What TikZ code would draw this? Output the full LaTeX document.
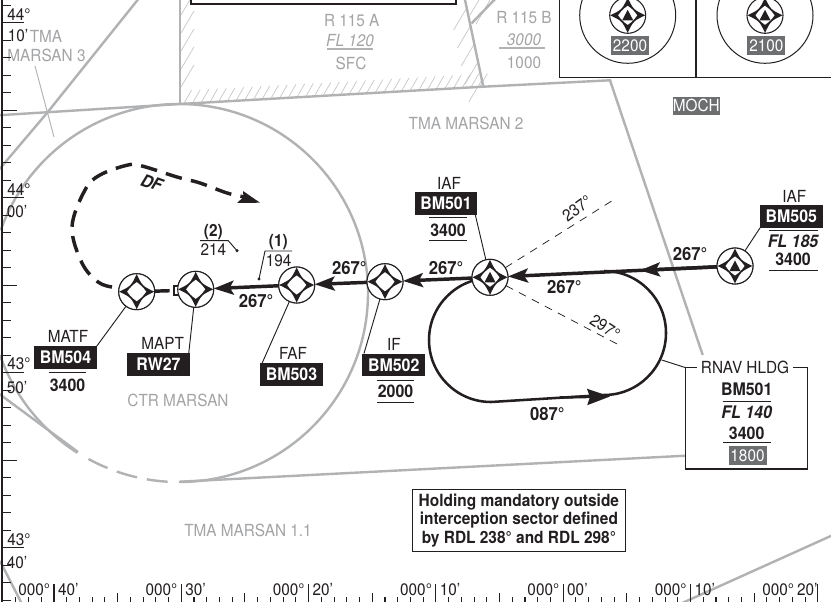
\documentclass[tikz,border=0pt]{standalone}
\usepackage{fontspec}
\setmainfont[FakeStretch=0.92]{TeX Gyre Heros}
\usetikzlibrary{arrows.meta,calc}
\definecolor{air}{HTML}{B1B2B4}
\definecolor{airtxt}{HTML}{A3A4A6}
\definecolor{tagc}{HTML}{6D6E70}
\definecolor{ink}{HTML}{231F20}
\newcommand{\wstar}{%
  \fill[ink] (0,-17.5) .. controls (5.7,-5.7) .. (17.5,0) .. controls (5.7,5.7) .. (0,17.5) .. controls (-5.7,5.7) .. (-17.5,0) .. controls (-5.7,-5.7) .. cycle;
  \fill[white] (0,-9.5) .. controls (4.4,-6.4) and (6.4,-4.4) .. (9.5,0) .. controls (6.4,4.4) and (4.4,6.4) .. (0,9.5) .. controls (-4.4,6.4) and (-6.4,4.4) .. (-9.5,0) .. controls (-6.4,-4.4) and (-4.4,-6.4) .. cycle;}
\tikzset{
  x=0.75pt,y=-0.75pt,
  every node/.style={inner sep=0pt,outer sep=0pt,text=ink},
  fn/.style={font=\fontsize{12.5}{14}\selectfont},
  fb/.style={font=\fontsize{13}{15}\bfseries\selectfont},
  fi/.style={font=\fontsize{13}{15}\bfseries\itshape\selectfont},
  gtxt/.style={font=\fontsize{12.5}{14}\selectfont,text=airtxt},
  gital/.style={font=\fontsize{12.5}{14}\itshape\selectfont,text=airtxt},
  brg/.style={font=\fontsize{13.6}{16}\bfseries\selectfont},
  bbox/.style={fill=ink,text=white,font=\fontsize{13}{15}\bfseries\selectfont,minimum width=47pt,minimum height=17.2pt},
  tagbox/.style={fill=tagc,text=white,font=\fontsize{12.5}{14}\selectfont,minimum height=14pt,minimum width=28.5pt},
  wpt/.style={circle,draw=ink,line width=0.8pt,fill=white,minimum size=27pt,
    path picture={\begin{scope}[shift={(path picture bounding box.center)}]\wstar\end{scope}}},
  wpti/.style={circle,draw=ink,line width=0.8pt,fill=white,minimum size=27pt,
    path picture={\begin{scope}[shift={(path picture bounding box.center)}]\wstar
      \fill[ink] (0,-5.5) -- (5.5,5) -- (-5.5,5) -- cycle;\end{scope}}},
  air/.style={draw=air,line width=1.8pt},
  hatchl/.style={draw=air!75,line width=0.5pt},
  track/.style={draw=ink,line width=2.6pt},
  arr/.style={-{Stealth[length=15pt,width=10.5pt,inset=3pt]}},
  lead/.style={draw=ink,line width=0.7pt},
  rule/.style={draw=ink,line width=0.7pt},
  ruleg/.style={draw=air,line width=0.8pt},
  tick/.style={draw=ink,line width=0.8pt},
  radial/.style={draw=ink,line width=0.55pt,dash pattern=on 6pt off 5pt},
}
\begin{document}
\begin{tikzpicture}
\useasboundingbox (0,0) rectangle (831,602);
\clip (0,0) rectangle (831,602);
\fill[white] (0,0) rectangle (831,602);

% hatching of R 115 A
\foreach \h in {184,192.7,...,480}{
  \pgfmathsetmacro\hy{103.5-(\h-180)*0.0563}
  \draw[hatchl] (\h,\hy) -- ++(7.5,-13);}
\foreach \h in {15,33,...,100}{\draw[hatchl] (181,\h) -- ++(13,-22);}
\foreach \h in {8,26,...,86}{
  \pgfmathsetmacro\hx{465+\h*0.21}
  \draw[hatchl] (\hx,\h) -- ++(-13,22);}
\draw[hatchl] (470,15) -- (479,0);
\draw[hatchl] (476,24) -- (490,0);

% airspace boundaries
\draw[air] (180,-5) -- (180,104);
\draw[air] (-2,115.3) -- (180,104) -- (483.3,86.7) -- (610,80.3) -- (702.7,355);
\draw[air] (464,-5) -- (483.3,86.7);
\draw[air] (471.5,23.5) -- (497,-3);
\draw[air] (140,-3) -- (47,113) -- (-3,172);
\draw[draw=air,line width=0.7pt] (35,66) -- (54,137);
\draw[air] (180,481.7) -- (685.7,455.7);
\draw[air] (-2,393) -- (78,452);
\draw[air] (0,561) -- (22,604);
\draw[air] (833,535) -- (680,604);
\draw[air] (179,482) arc[start angle=90,end angle=-160.6,radius=189];
\draw[air] (0,355) arc[start angle=160.9,end angle=122.4,radius=189];
\draw[air,dash pattern=on 15.75pt off 7.5pt] (88.5,459) arc[start angle=118.6,end angle=92,radius=189];

% top frames
\draw[draw=ink,line width=1.3pt,fill=white] (190.7,-8) rectangle (456,4);
\draw[draw=ink,line width=1pt] (559.3,-5) -- (559.3,77.7) -- (835,77.7);
\draw[draw=ink,line width=1pt] (696,-5) -- (696,77.7);
\node[circle,draw=ink,line width=0.75pt,minimum size=72pt] (ring1) at (627.7,15.3) {};
\node[circle,draw=ink,line width=0.75pt,minimum size=72pt] (ring2) at (765,15.3) {};
\node[wpti] (top1) at (ring1) {};
\node[wpti] (top2) at (ring2) {};
\node[tagbox] (t2200) at (630,45.6) {2200};
\node[tagbox] (t2100) at (766.3,45.6) {2100};
\node[tagbox,minimum width=35.5pt,minimum height=13.5pt] (moch) at (696.3,105.7) {MOCH};

% airspace names
\node[gtxt] (r115a) at (351.7,20.7) {R 115 A};
\node[gital] (fl120) at (350,41) {FL 120};
\draw[ruleg] (326.7,49) -- (372.7,49);
\node[gtxt] (sfc) at (351,63.3) {SFC};
\node[gtxt] (r115b) at (524,18) {R 115 B};
\node[gital] (v3000) at (524,40) {3000};
\draw[ruleg] (499,48) -- (545,48);
\node[gtxt] (v1000) at (524,63) {1000};
\node[gtxt] (tma3a) at (46,36.3) {TMA};
\node[gtxt] (tma3b) at (46.5,55) {MARSAN 3};
\node[gtxt] (tma2) at (466,123.7) {TMA MARSAN 2};
\node[gtxt] (ctr) at (178,400) {CTR MARSAN};
\node[gtxt] (tma11) at (248,530.7) {TMA MARSAN 1.1};

% scales
\draw[draw=ink,line width=1.3pt] (2,-5) -- (2,607);
\foreach \k in {-1,...,33}{
  \pgfmathsetmacro\ty{22.7+17.5*\k}
  \draw[tick] (2,\ty) -- (11,\ty);}
\foreach \k in {5,15,25}{
  \pgfmathsetmacro\ty{22.7+17.5*\k}
  \draw[tick] (2,\ty) -- (17,\ty);}
\foreach \k in {0,10,20,30}{
  \pgfmathsetmacro\ty{22.7+17.5*\k}
  \draw[tick] (2,\ty) -- (24,\ty);}
\foreach \k in {-3,-2,-1,1,2,3,4,6,7,8,9,11,12,13,14,16,17,18,19,21,22,23,24,26,27,28,29,31,32,33,34,36,37,38,39,41,42,43,44,46,47,48,49,51,52,53,54,56,57,58,59}{
  \pgfmathsetmacro\tx{54+12.73*\k}
  \draw[tick] (\tx,597) -- (\tx,603);}
\foreach \k in {5,15,25,35,45,55}{
  \pgfmathsetmacro\tx{54+12.73*\k}
  \draw[tick] (\tx,593) -- (\tx,603);}
\foreach \k in {0,10,...,60}{
  \pgfmathsetmacro\tx{54+12.73*\k}
  \draw[tick] (\tx,584) -- (\tx,603);}
\node[fn] (la) at (19,15) {44°};
\node[fn] (lb) at (18,36) {10'};
\node[fn] (lc) at (19,190) {44°};
\node[fn] (ld) at (17,212) {00'};
\node[fn] (le) at (19,364) {43°};
\node[fn] (lf) at (17,388) {50'};
\node[fn] (lg) at (19,540) {43°};
\node[fn] (lh) at (17,563) {40'};
\foreach \tx/\m [count=\i] in {54/40',181.3/30',308.6/20',435.9/10',563.2/00',690.5/10'}{
  \node[fn,anchor=east] (xd\i) at (\tx-4,590) {000°};
  \node[fn,anchor=west] (xm\i) at (\tx+4,590) {\m};}
\node[fn,anchor=east] (xd7) at (794,590) {000°};
\node[fn,anchor=west] (xm7) at (797,590) {20'};

% waypoints are placed first so that connectors can name them
\path node[wpti] (w505) at (735,266) {}
      node[wpti] (w501) at (490,277.3) {}
      node[wpt] (wif) at (385,281.7) {}
      node[wpt] (wfaf) at (296.7,285) {}
      node[wpt] (wmapt) at (195.7,289.3) {}
      node[wpt] (wmatf) at (136.7,291.7) {};

% radials
\coordinate (r237) at (613.3,200);
\coordinate (r297) at (619,345);
\draw[radial] (w501) -- (r237);
\draw[radial] (w501) -- (r297);
\node[fn,rotate=36] (l237) at (577,209) {237°};
\node[fn,rotate=-33] (l297) at (605,327) {297°};

% holding
\draw[draw=ink,line width=1.9pt] (491,278) arc[start angle=270,end angle=90,radius=62] -- (604,395) arc[start angle=90,end angle=-90,radius=62];
\coordinate (harr) at (560,397.5);
\coordinate (hend) at (610,396.5);
\draw[draw=ink,line width=1.9pt,-{Stealth[length=17pt,width=12pt,inset=2pt]}] (harr) -- (hend);

% tracks
\draw[track,arr] (w505) -- (w501);
\draw[track,arr] (w505) -- ($(w505)!0.388!(w501)$);
\draw[track,arr] (w501) -- (wif);
\draw[track,arr] (wif) -- (wfaf);
\draw[track,arr] (wfaf) -- (wmapt);
\node[draw=ink,line width=1.3pt,fill=white,minimum width=5pt,minimum height=6.5pt] (fap) at (177,290.5) {};
\draw[track,shorten <=3pt] (fap) -- (wmatf);
\draw[track,dash pattern=on 12.5pt off 7pt] plot[smooth,tension=0.6] coordinates {(112,287) (98,282) (82,263) (72,227) (85,190) (100,175) (128,165) (142,166) (177,177) (200,183) (227,193) (245,197)};
\fill[ink] (260,202.7) -- (243,191) -- (243.5,197) -- (237,203) -- cycle;

% redraw symbols above the lines
\path node[wpti] at (w505) {} node[wpti] at (w501) {} node[wpt] at (wif) {} node[wpt] at (wfaf) {} node[wpt] at (wmapt) {} node[wpt] at (wmatf) {};

% obstacles
\node[font=\fontsize{12.5}{14}\bfseries\selectfont] (ob2a) at (213.3,231.7) {(2)};
\node[fn] (ob2b) at (213.3,250) {214};
\coordinate (ob2) at (237,250.7);
\fill[ink] (ob2) circle[radius=1.7];
\draw[lead] (200,240.7) -- (228.3,240.7) -- (ob2);
\node[font=\fontsize{12.5}{14}\bfseries\selectfont] (ob1a) at (278.3,241.7) {(1)};
\node[fn] (ob1b) at (278.7,260.5) {194};
\coordinate (ob1) at (259,279);
\fill[ink] (ob1) circle[radius=1.7];
\draw[lead] (292,251) -- (265,251) -- (ob1);
\node[font=\fontsize{13}{15}\bfseries\itshape\selectfont,rotate=-20] (df) at (151.7,182.7) {DF};

% bearings
\node[brg] (b1) at (690,254) {267°};
\node[brg] (b2) at (446,267.7) {267°};
\node[brg] (b3) at (564.3,286.7) {267°};
\node[brg] (b4) at (349.3,267.7) {267°};
\node[brg] (b5) at (256,301) {267°};
\node[brg] (b6) at (547.3,414) {087°};

% fix labels
\node[bbox] (bm501) at (446,203.5) {BM501};
\node[fn] (iaf1) at (449,183) {IAF};
\draw[rule] (429.3,217.3) -- (466.7,217.3);
\node[fb] (v34a) at (448,230) {3400};
\draw[rule] (429.3,240) -- (466.7,240);
\draw[lead] ([xshift=-1.5pt]bm501.south east) -- (w501);

\node[bbox] (bm505) at (791.3,216.5) {BM505};
\node[fn] (iaf2) at (794.3,196) {IAF};
\draw[rule] (769.3,230.7) -- (818.3,230.7);
\node[fi] (fl185) at (793,241.7) {FL 185};
\node[fb] (v34b) at (793,259.3) {3400};
\draw[rule] (769.3,270) -- (818.3,270);
\draw[lead] (bm505.south west) -- (w505);

\node[bbox] (bm504) at (65.5,357.5) {BM504};
\node[fn] (matf) at (68,336.7) {MATF};
\draw[rule] (48.7,372) -- (86,372);
\node[fb] (v34c) at (67.5,385) {3400};
\draw[lead] (bm504.north east) -- (wmatf);

\node[bbox] (rw27) at (158.5,364.5) {RW27};
\node[fn] (mapt) at (162.7,343.3) {MAPT};
\draw[lead] ([xshift=-0.8pt]rw27.north east) -- (wmapt);

\node[bbox] (bm503) at (291.5,374.5) {BM503};
\node[fn] (faf) at (293,353) {FAF};
\draw[lead] ([xshift=1.5pt]bm503.north west) -- (wfaf);

\node[bbox] (bm502) at (393.7,365) {BM502};
\node[fn] (if) at (394,344) {IF};
\draw[rule] (377.3,380) -- (414,380);
\node[fb] (v2000) at (395.5,391.7) {2000};
\draw[rule] (377.3,402.3) -- (414,402.3);
\draw[lead] ([xshift=1.2pt]bm502.north west) -- (wif);

% RNAV holding box
\draw[draw=ink,line width=0.9pt,fill=white] (685.7,367.7) rectangle (807.3,469);
\node[fn,fill=white,inner xsep=3pt] (hldg) at (745,367.7) {RNAV HLDG};
\node (hcorner) at (685.7,367.7) {};
\coordinate (hleader) at (661.7,360);
\draw[lead] (hleader) -- (hcorner);
\node[fb] (hb) at (746.7,389.3) {BM501};
\draw[rule] (723.3,401.7) -- (770.7,401.7);
\node[fi] (hf) at (746.7,412) {FL 140};
\node[fb] (h34) at (746.7,433) {3400};
\draw[rule] (723.3,442) -- (770.7,442);
\node[tagbox] (t1800) at (747.5,455.8) {1800};

% note
\node[draw=ink,line width=0.9pt,fill=white,minimum width=159.4pt,minimum height=46.8pt,align=center,font=\fontsize{12.6}{13.9}\bfseries\selectfont] (note) at (518.9,520.5) {Holding mandatory outside\\interception sector defined\\by RDL 238° and RDL 298°};
\end{tikzpicture}
\end{document}
